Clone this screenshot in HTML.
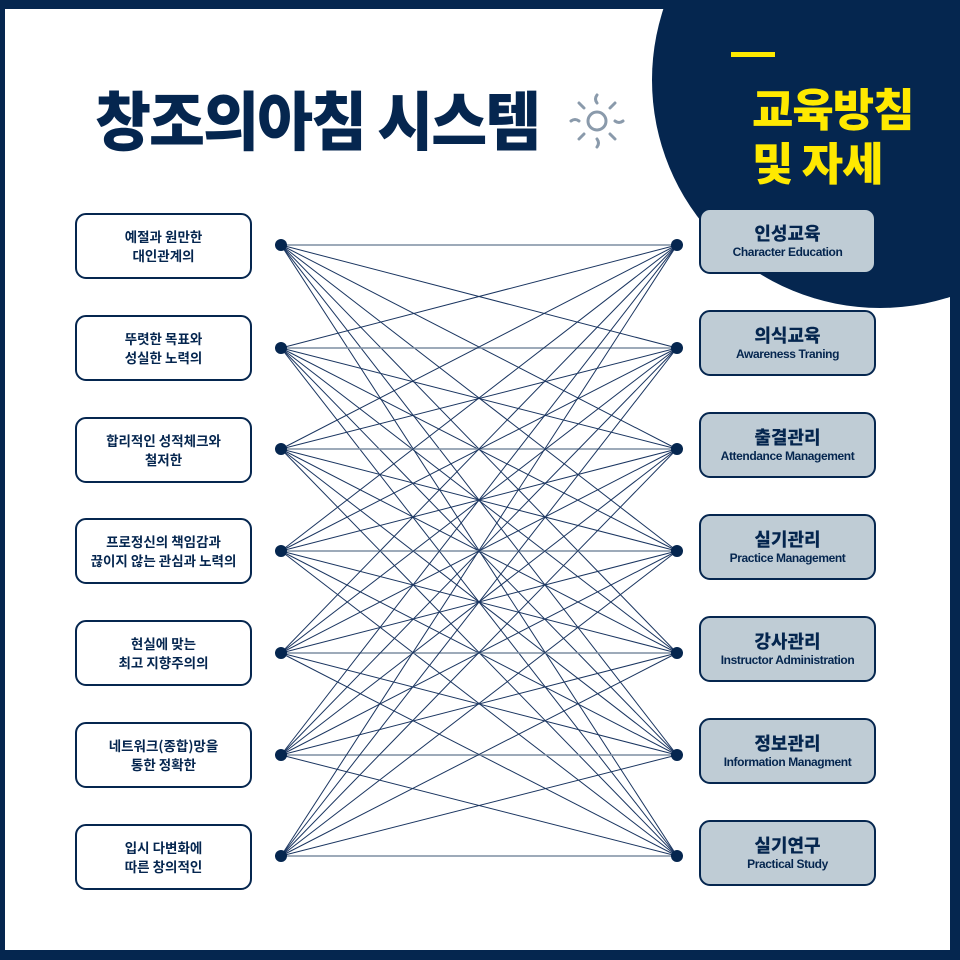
<!DOCTYPE html>
<html><head><meta charset="utf-8"><style>
body{margin:0;width:960px;height:960px;overflow:hidden;background:#05264f;position:relative;font-family:"Liberation Sans","Noto Sans CJK KR",sans-serif}
.w{position:absolute;left:5px;top:9px;width:945px;height:941px;background:#fff;overflow:hidden}
.t{position:absolute;left:95px;top:78px;font-size:64px;font-weight:900;color:#05264f;letter-spacing:-2px;line-height:80px;font-family:"Noto Sans CJK KR",sans-serif;transform:scaleX(0.95);transform-origin:0 0;white-space:nowrap}
.y{position:absolute;left:752px;top:80px;font-size:45px;font-weight:900;color:#ffe900;line-height:54px;font-family:"Noto Sans CJK KR",sans-serif;letter-spacing:-1px}
.bar{position:absolute;left:731px;top:52px;width:44px;height:5px;background:#ffe900}
.lb{position:absolute;left:75px;width:173px;height:62px;border:2px solid #05264f;border-radius:11px;background:#fff;display:flex;align-items:center;justify-content:center;text-align:center;font-size:13.5px;font-weight:700;color:#05264f;line-height:19px;font-family:"Noto Sans CJK KR",sans-serif}
.rb{position:absolute;left:699px;width:173px;height:62px;border:2px solid #05264f;border-radius:11px;background:#bfccd5;display:flex;flex-direction:column;align-items:center;justify-content:center;text-align:center;color:#05264f;font-family:"Noto Sans CJK KR",sans-serif;font-weight:700}
.rb b{font-size:18px;line-height:22px}
.rb i{font-style:normal;font-size:12px;line-height:16px;letter-spacing:-0.4px;font-family:"Liberation Sans",sans-serif}
svg{position:absolute;left:0;top:0}
</style></head><body>
<div class="w"></div>
<svg width="960" height="960" style="z-index:1">
<defs><clipPath id="c"><rect x="5" y="9" width="945" height="941"/></clipPath></defs>
<circle cx="880" cy="80" r="228" fill="#05264f" clip-path="url(#c)"/>
<g stroke="#1a3560" stroke-width="1">
<g id="L"></g>
</g>
<g fill="none" stroke="#8a9aab" stroke-width="3" stroke-linecap="round">
<circle cx="597" cy="121" r="9"/>
<path d="M597 95q-3 4 0 8M597 139q3 4 0 8M571 121q4 -3 8 0M615 121q4 3 8 0M579 103l5 5M610 134l5 5M615 103l-5 5M579 139l5-5"/>
</g>
</svg>
<div class="t" style="z-index:2">창조의아침 시스템</div>
<div class="bar" style="z-index:2"></div>
<div class="y" style="z-index:2">교육방침<br>및 자세</div>
<script>
var ys=[245,348,449,551,653,755,856],g=document.getElementById('L'),s='';
for(var i=0;i<7;i++)for(var j=0;j<7;j++){s+='<line x1="281" y1="'+ys[i]+'" x2="677" y2="'+ys[j]+'"'+(i==j?' stroke="#7d8ea2" stroke-width="1.5"':'')+'/>';}
for(i=0;i<7;i++){s+='<circle cx="281" cy="'+ys[i]+'" r="6" fill="#05264f" stroke="none"/><circle cx="677" cy="'+ys[i]+'" r="6" fill="#05264f" stroke="none"/>';}
g.innerHTML=s;
</script>
<div style="position:relative;z-index:3">
<div class="lb" style="top:213px">예절과 원만한<br>대인관계의</div>
<div class="lb" style="top:315px">뚜렷한 목표와<br>성실한 노력의</div>
<div class="lb" style="top:417px">합리적인 성적체크와<br>철저한</div>
<div class="lb" style="top:518px">프로정신의 책임감과<br>끊이지 않는 관심과 노력의</div>
<div class="lb" style="top:620px">현실에 맞는<br>최고 지향주의의</div>
<div class="lb" style="top:722px">네트워크(종합)망을<br>통한 정확한</div>
<div class="lb" style="top:824px">입시 다변화에<br>따른 창의적인</div>
<div class="rb" style="top:208px"><b>인성교육</b><i>Character Education</i></div>
<div class="rb" style="top:310px"><b>의식교육</b><i>Awareness Traning</i></div>
<div class="rb" style="top:412px"><b>출결관리</b><i>Attendance Management</i></div>
<div class="rb" style="top:514px"><b>실기관리</b><i>Practice Management</i></div>
<div class="rb" style="top:616px"><b>강사관리</b><i>Instructor Administration</i></div>
<div class="rb" style="top:718px"><b>정보관리</b><i>Information Managment</i></div>
<div class="rb" style="top:820px"><b>실기연구</b><i>Practical Study</i></div>
</div>
</body></html>
